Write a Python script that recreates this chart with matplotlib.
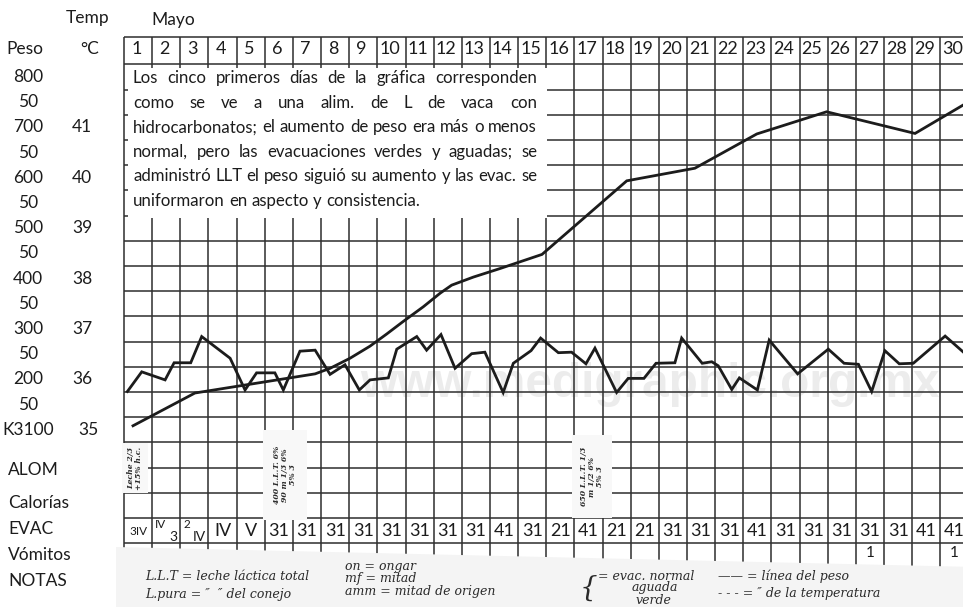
import matplotlib
matplotlib.use("Agg")
import matplotlib.pyplot as plt
from matplotlib.patches import Rectangle, Polygon

# ---------------- data ----------------
days = list(range(1, 31))
peso_labels = ["800", "50", "700", "50", "600", "50", "500", "50", "400", "50",
               "300", "50", "200", "50", "K3100"]
peso_values = [3800, 3750, 3700, 3650, 3600, 3550, 3500, 3450, 3400, 3350,
               3300, 3250, 3200, 3150, 3100]
temp_labels = ["41", "40", "39", "38", "37", "36", "35"]
temp_values = [41, 40, 39, 38, 37, 36, 35]

# weight curve (day position, grams)
weight_day = [0.32, 2.52, 6.79, 7.32, 8.03, 8.74, 9.33, 9.92, 10.63, 11.23,
              11.64, 12.41, 13.36, 14.85, 17.86, 20.28, 22.48, 24.96, 28.10, 29.80]
weight_g = [3108, 3173, 3211, 3222, 3242, 3266, 3290, 3315, 3344, 3371,
            3387, 3403, 3420, 3448, 3594, 3619, 3687, 3731, 3688, 3744]

# temperature curve (day position, degrees C)
temp_day = [0.12, 0.63, 1.46, 1.78, 2.37, 2.76, 3.77, 4.30, 4.71, 5.36,
            5.66, 6.25, 6.79, 7.32, 7.85, 8.36, 8.74, 9.39, 9.69, 10.40,
            10.75, 11.26, 11.76, 12.35, 12.82, 13.47, 13.83, 14.46, 14.80, 15.43,
            15.90, 16.41, 16.73, 17.50, 17.91, 18.47, 18.90, 19.57, 19.81, 20.54,
            20.88, 21.11, 21.59, 21.86, 22.50, 22.92, 23.93, 25.02, 25.58, 26.09,
            26.56, 27.03, 27.54, 28.04, 29.17, 29.80]
temp_c = [35.76, 36.15, 35.99, 36.33, 36.33, 36.85, 36.42, 35.79, 36.13, 36.13,
          35.79, 36.56, 36.58, 36.10, 36.29, 35.79, 35.99, 36.03, 36.60, 36.85,
          36.58, 36.89, 36.22, 36.51, 36.54, 35.74, 36.32, 36.57, 36.82, 36.53,
          36.54, 36.31, 36.62, 35.74, 36.02, 36.02, 36.32, 36.33, 36.82, 36.32,
          36.35, 36.27, 35.80, 36.03, 35.79, 36.78, 36.11, 36.60, 36.32, 36.30,
          35.76, 36.57, 36.31, 36.32, 36.86, 36.55]

evac = ["3IV", "IV3", "2IV", "IV", "V", "31", "31", "31", "31", "31", "31", "31", "31",
        "41", "31", "21", "41", "21", "21", "31", "31", "31", "41", "31", "31",
        "31", "31", "31", "41", "41"]
evac_split = {2: ("IV", "3"), 3: ("2", "IV")}   # superscript / subscript entries
vomitos_days = [27, 30]
vomitos_vals = ["1", "1"]

row_labels = ["ALOM", "Calorías", "EVAC", "Vómitos", "NOTAS"]

note_text = ["Los cinco primeros días de la gráfica corresponden",
             "como se ve a una alim. de L de vaca con",
             "hidrocarbonatos; el aumento de peso era más o menos",
             "normal, pero las evacuaciones verdes y aguadas; se",
             "administró LLT el peso siguió su aumento y las evac. se",
             "uniformaron en aspecto y consistencia."]

# ---------------- layout ----------------
W, H, DPI = 963, 607, 100
FONT = "Lato"
INK = "#1c1c1c"
GRID = "#2e2e2e"
fig = plt.figure(figsize=(W / DPI, H / DPI), dpi=DPI)
ax = fig.add_axes([0, 0, 1, 1])

X0, PXD = 124.0, 28.15          # pixel of day boundary 0, pixels per day
GPP = 50 / 25.2                 # grams per pixel


def xd(px):
    return (px - X0) / PXD


def wy(py):
    return 3800 - (py - 77) * GPP


ax.set_xlim(xd(0), xd(W))
ax.set_ylim(wy(H), wy(0))
ax.axis("off")
ax2 = ax.twinx()
ax2.set_ylim(wy(H) / 100 + 4, wy(0) / 100 + 4)   # temperature scale: 36 C <-> 3200 g
ax2.axis("off")

renderer = fig.canvas.get_renderer()


def twidth(s, size, **kw):
    t = ax.text(0, 0, s, fontsize=size, **kw)
    w = t.get_window_extent(renderer).width
    t.remove()
    return w


# watermark
wm = "www.medigraphic.org.mx"
wm_kw = dict(family="Liberation Sans", weight="bold")
wm_size = 30 * 580 / twidth(wm, 30, **wm_kw)
ax.text(xd(360), wy(397), wm, fontsize=wm_size, color="#ececec", va="baseline",
        ha="left", zorder=1, **wm_kw)

# grid
top = wy(37)
rows = [3825 - 50 * k for k in range(20)]
bottom = wy(568)
ax.hlines([top] + rows, 0, 30.5, color=GRID, lw=1.1, zorder=2)
ax.vlines(range(0, 31), bottom, top, color=GRID, lw=1.1, zorder=2)

# header
for d in days:
    ax.text(d - 0.56, wy(49), str(d), fontsize=13, family=FONT, ha="center",
            va="center", color=INK, zorder=5)
ax.text(xd(173), wy(20), "Mayo", fontsize=12.5, family=FONT, ha="center", va="center", color=INK)
ax.text(xd(88), wy(18), "Temp", fontsize=12.5, family=FONT, ha="center", va="center", color=INK)
ax.text(xd(25), wy(49), "Peso", fontsize=12.5, family=FONT, ha="center", va="center", color=INK)
ax.text(xd(90), wy(49), "°C", fontsize=12.5, family=FONT, ha="center", va="center", color=INK)

for lab, v in zip(peso_labels, peso_values):
    ax.text(xd(28), v, lab, fontsize=12.5, family=FONT, ha="center", va="center", color=INK)
for lab, v in zip(temp_labels, temp_values):
    xx = xd(88) if v == 35 else xd(82)
    ax2.text(xx, v, lab, fontsize=12.5, family=FONT, ha="center", va="center", color=INK)

row_py = [470, 503, 529, 555, 581]
for lab, py in zip(row_labels, row_py):
    ax.text(xd(8), wy(py), lab, fontsize=12.5, family=FONT, ha="left", va="center", color=INK)

# text box
ax.add_patch(Rectangle((xd(128), wy(217.5)), xd(547) - xd(128), wy(68) - wy(217.5),
                       facecolor="white", edgecolor="none", zorder=3))
left_px, right_px = 133, 537
box_size = 10 * (right_px - left_px - 2) / twidth(note_text[4], 10, family=FONT)
space_w = twidth("a a", box_size, family=FONT) - twidth("aa", box_size, family=FONT)
for i, line in enumerate(note_text):
    py = 78 + 24.6 * i
    words = line.split(" ")
    ws = [twidth(w_, box_size, family=FONT) for w_ in words]
    if i == len(note_text) - 1:
        gap = space_w
    else:
        gap = (right_px - left_px - sum(ws)) / (len(words) - 1)
    x = left_px
    for w_, wd in zip(words, ws):
        ax.text(xd(x), wy(py), w_, fontsize=box_size, family=FONT, ha="left",
                va="center", color=INK, zorder=5)
        x += wd + gap

# handwritten patches in ALOM rows
hand = dict(family="DejaVu Serif", style="italic", color="#2a2a2a")
patches = [(122, 148, 443, 493, "Leche 2/3\n+15% h.c."),
           (263, 307, 430, 520, "400 L.L.T. 6%\n90 m 1/3 6%\n5% 3"),
           (572, 612, 435, 518, "650 L.L.T. 1/3\nm 1/2 6%\n5% 3")]
for x1, x2, y1, y2, s in patches:
    ax.add_patch(Rectangle((xd(x1), wy(y2)), xd(x2) - xd(x1), wy(y1) - wy(y2),
                           facecolor="#f8f8f8", edgecolor="none", zorder=3))
    ax.text(xd((x1 + x2) / 2), wy((y1 + y2) / 2), s, rotation=90, fontsize=5.6,
            ha="center", va="center", zorder=4, linespacing=1.0, weight="bold", **hand)

# EVAC row
for d, e in zip(days, evac):
    if d in evac_split:
        sup, sub = evac_split[d]
        ax.text(d - 0.9, wy(524), sup, fontsize=8.5, family=FONT, ha="left", va="center", color=INK, zorder=5)
        ax.text(d - 0.1, wy(537), sub, fontsize=10, family=FONT, ha="right", va="center", color=INK, zorder=5)
    elif d == 1:
        ax.text(d - 0.5, wy(531), e, fontsize=8.5, family=FONT, ha="center", va="center", color=INK, zorder=5)
    else:
        ax.text(d - 0.5, wy(531), e, fontsize=13, family=FONT, ha="center", va="center", color=INK, zorder=5)

for d, v in zip(vomitos_days, vomitos_vals):
    ax.text(d - 0.5, wy(553), v, fontsize=11, family=FONT, ha="center", va="center", color=INK, zorder=5)

# NOTAS scan strip
ax.add_patch(Polygon([(xd(116), wy(547)), (xd(975), wy(567)), (xd(975), wy(610)), (xd(116), wy(610))],
                     closed=True, facecolor="#f4f4f4", edgecolor="none", zorder=6))
notes = [(145, 576, "L.L.T = leche láctica total"),
         (145, 594, "L.pura = \u2033  \u2033 del conejo"),
         (345, 566, "on = ongar"),
         (345, 578, "mf = mitad"),
         (345, 592, "amm = mitad de origen"),
         (598, 576, "= evac. normal"),
         (632, 588, "aguada"),
         (636, 600, "verde"),
         (718, 576, "\u2014\u2014 = línea del peso"),
         (718, 593, "- - - = \u2033 de la temperatura")]
for px, py, s in notes:
    ax.text(xd(px), wy(py), s, fontsize=9, ha="left", va="center", zorder=7, **hand)
ax.text(xd(580), wy(588), "{", fontsize=20, ha="left", va="center", zorder=7, **hand)

# data lines
ax.plot(weight_day, weight_g, color=INK, lw=2.0, zorder=4, solid_joinstyle="miter")
ax2.plot(temp_day, temp_c, color=INK, lw=2.0, zorder=4, solid_joinstyle="miter")

fig.savefig("out.png", dpi=DPI)
